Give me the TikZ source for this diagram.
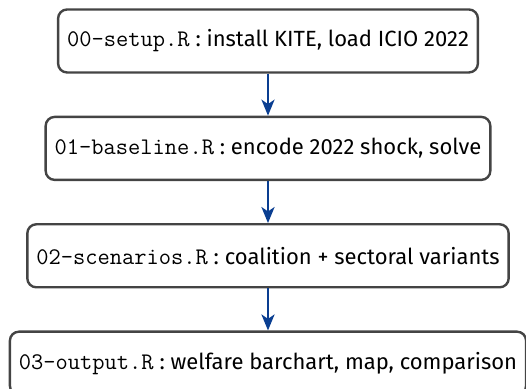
\documentclass[tikz,border=0pt]{standalone}
\usepackage{fontspec}
\setmainfont{Fira Sans}
\usepackage{xcolor}
\usetikzlibrary{positioning,arrows.meta}
\definecolor{flowblue}{RGB}{10,62,145}
\definecolor{boxgray}{RGB}{68,68,68}
\newcommand{\rfile}[1]{{\fontsize{11.9}{13}\ttfamily #1}}

\begin{document}
\begin{tikzpicture}[x=1pt,y=1pt,
		stepbox/.style={draw=boxgray,line width=1.2pt,rounded corners=4.5pt,
			minimum height=31.5pt,inner xsep=4.5pt,font=\fontsize{11}{13}\selectfont},
		flow/.style={flowblue,line width=1.3pt,-{Stealth[length=8pt,width=6.5pt,inset=2.2pt]}}]
	\useasboundingbox (0,0) rectangle (263,-194.5);
	\node[stepbox] (setup) at (134,-20.5) {\rfile{00-setup.R} : install KITE, load ICIO 2022};
	\node[stepbox,below=21pt of setup] (baseline) {\rfile{01-baseline.R} : encode 2022 shock, solve};
	\node[stepbox,below=21pt of baseline] (scen) {\rfile{02-scenarios.R} : coalition + sectoral variants};
	\node[stepbox,below=21pt of scen] (output) {\rfile{03-output.R} : welfare barchart, map, comparison};
	\draw[flow] (setup) -- (baseline);
	\draw[flow] (baseline) -- (scen);
	\draw[flow] (scen) -- (output);
\end{tikzpicture}
\end{document}
